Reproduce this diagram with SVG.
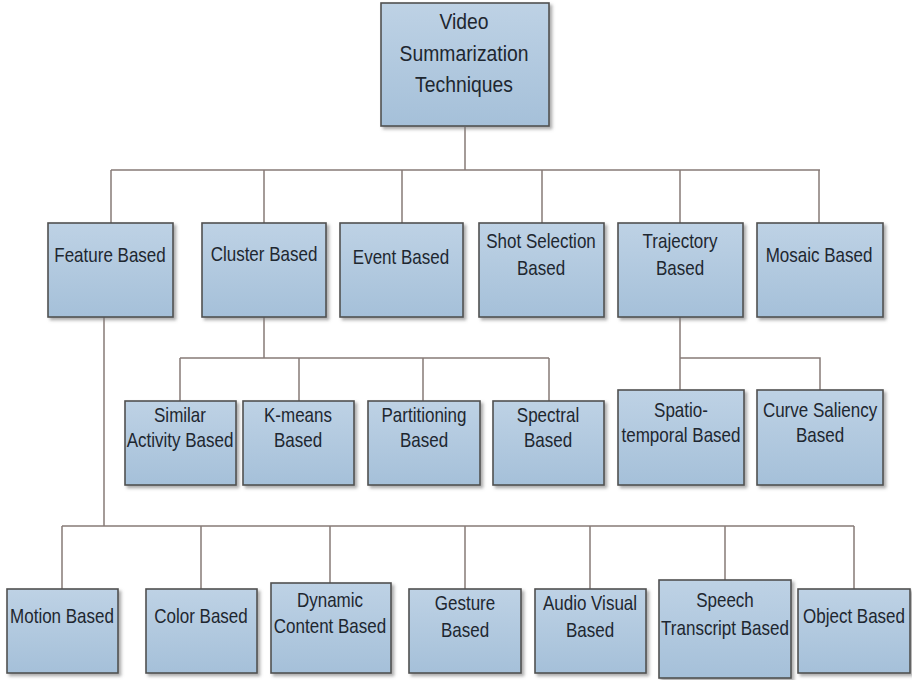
<svg xmlns="http://www.w3.org/2000/svg" width="912" height="680" viewBox="0 0 912 680">
<defs>
<linearGradient id="g" x1="0" y1="0" x2="0" y2="1">
<stop offset="0" stop-color="#bed2e5"/>
<stop offset="1" stop-color="#a5c0d9"/>
</linearGradient>
<filter id="sh" x="-10%" y="-10%" width="130%" height="130%">
<feDropShadow dx="2.5" dy="2.5" stdDeviation="1.5" flood-color="#777" flood-opacity="0.6"/>
</filter>
</defs>
<style>
.box{fill:url(#g);stroke:#505050;stroke-width:1.6;filter:url(#sh)}
.t{font-family:"Liberation Sans",Arial,sans-serif;font-size:20px;fill:#1e2730;text-anchor:middle}
.r{font-size:22.5px}
.c{fill:none;stroke:#877b77;stroke-width:1.5}
</style>
<rect width="912" height="680" fill="#ffffff"/>
<g id="connectors">
<path class="c" d="M465 127V170M111 170H820M111 170V223M264 170V223M402 170V223M542 170V223M680 170V223M819 170V223"/>
<path class="c" d="M264 317V358M180 358H549M180 358V401M299 358V401M423 358V401M549 358V401"/>
<path class="c" d="M680 317V390M680 358H820V390"/>
<path class="c" d="M104 317V526M62 526H854M62 526V589M201 526V589M330 526V583M465 526V589M590 526V589M725 526V580M854 526V589"/>
</g>
<g id="root"><rect class="box" x="381" y="3" width="168" height="123"/>
<text class="t r" transform="translate(464 29) scale(0.86 1)">Video</text><text class="t r" transform="translate(464 61) scale(0.86 1)">Summarization</text><text class="t r" transform="translate(464 92) scale(0.86 1)">Techniques</text></g>
<g id="feature"><rect class="box" x="48" y="223" width="125" height="94"/><text class="t" transform="translate(110 262) scale(0.85 1)">Feature Based</text></g>
<g id="cluster"><rect class="box" x="202" y="223" width="124" height="94"/><text class="t" transform="translate(264 261) scale(0.85 1)">Cluster Based</text></g>
<g id="event"><rect class="box" x="340" y="223" width="123" height="94"/><text class="t" transform="translate(401 264) scale(0.85 1)">Event Based</text></g>
<g id="shot"><rect class="box" x="479" y="223" width="125" height="94"/><text class="t" transform="translate(541 248) scale(0.85 1)">Shot Selection</text><text class="t" transform="translate(541 275) scale(0.85 1)">Based</text></g>
<g id="trajectory"><rect class="box" x="618" y="223" width="125" height="94"/><text class="t" transform="translate(680 248) scale(0.85 1)">Trajectory</text><text class="t" transform="translate(680 275) scale(0.85 1)">Based</text></g>
<g id="mosaic"><rect class="box" x="757" y="223" width="126" height="94"/><text class="t" transform="translate(819 262) scale(0.85 1)">Mosaic Based</text></g>
<g id="similar"><rect class="box" x="125" y="401" width="111" height="84"/><text class="t" transform="translate(180 422) scale(0.85 1)">Similar</text><text class="t" transform="translate(180 447) scale(0.85 1)">Activity Based</text></g>
<g id="kmeans"><rect class="box" x="243" y="401" width="111" height="84"/><text class="t" transform="translate(298 422) scale(0.85 1)">K-means</text><text class="t" transform="translate(298 447) scale(0.85 1)">Based</text></g>
<g id="partitioning"><rect class="box" x="368" y="401" width="112" height="84"/><text class="t" transform="translate(424 422) scale(0.85 1)">Partitioning</text><text class="t" transform="translate(424 447) scale(0.85 1)">Based</text></g>
<g id="spectral"><rect class="box" x="493" y="401" width="111" height="84"/><text class="t" transform="translate(548 422) scale(0.85 1)">Spectral</text><text class="t" transform="translate(548 447) scale(0.85 1)">Based</text></g>
<g id="spatio"><rect class="box" x="618" y="390" width="126" height="95"/><text class="t" transform="translate(681 417) scale(0.85 1)">Spatio-</text><text class="t" transform="translate(681 442) scale(0.85 1)">temporal Based</text></g>
<g id="curve"><rect class="box" x="757" y="390" width="126" height="95"/><text class="t" transform="translate(820 417) scale(0.85 1)">Curve Saliency</text><text class="t" transform="translate(820 442) scale(0.85 1)">Based</text></g>
<g id="motion"><rect class="box" x="7" y="589" width="111" height="84"/><text class="t" transform="translate(62 623) scale(0.85 1)">Motion Based</text></g>
<g id="color"><rect class="box" x="146" y="589" width="111" height="84"/><text class="t" transform="translate(201 623) scale(0.85 1)">Color Based</text></g>
<g id="dynamic"><rect class="box" x="271" y="583" width="120" height="90"/><text class="t" transform="translate(330 607) scale(0.85 1)">Dynamic</text><text class="t" transform="translate(330 633) scale(0.85 1)">Content Based</text></g>
<g id="gesture"><rect class="box" x="409" y="589" width="112" height="84"/><text class="t" transform="translate(465 610) scale(0.85 1)">Gesture</text><text class="t" transform="translate(465 637) scale(0.85 1)">Based</text></g>
<g id="audio"><rect class="box" x="535" y="589" width="111" height="84"/><text class="t" transform="translate(590 610) scale(0.85 1)">Audio Visual</text><text class="t" transform="translate(590 637) scale(0.85 1)">Based</text></g>
<g id="speech"><rect class="box" x="659" y="580" width="132" height="98"/><text class="t" transform="translate(725 607) scale(0.85 1)">Speech</text><text class="t" transform="translate(725 635) scale(0.85 1)">Transcript Based</text></g>
<g id="object"><rect class="box" x="798" y="589" width="112" height="84"/><text class="t" transform="translate(854 623) scale(0.85 1)">Object Based</text></g>
</svg>
